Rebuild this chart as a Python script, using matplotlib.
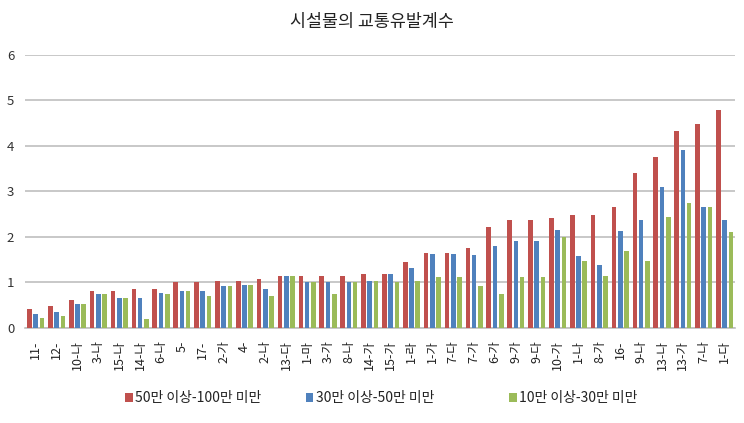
import matplotlib
matplotlib.use("Agg")
import matplotlib.pyplot as plt
import numpy as np

plt.rcParams['font.family'] = ['Noto Sans CJK KR', 'DejaVu Sans']

title = "시설물의 교통유발계수"
categories = ["11-", "12-", "10-나", "3-나", "15-나", "14-나", "6-나", "5-", "17-", "2-가",
              "4-", "2-나", "13-다", "1-마", "3-가", "8-나", "14-가", "15-가", "1-라", "1-가",
              "7-다", "7-가", "6-가", "9-가", "9-다", "10-가", "1-나", "8-가", "16-", "9-나",
              "13-나", "13-가", "7-나", "1-다"]
series_names = ["50만 이상-100만 미만", "30만 이상-50만 미만", "10만 이상-30만 미만"]
s_large = [0.42, 0.48, 0.61, 0.81, 0.81, 0.85, 0.86, 1.00, 1.00, 1.03,
           1.03, 1.07, 1.14, 1.15, 1.15, 1.15, 1.18, 1.19, 1.45, 1.65,
           1.65, 1.76, 2.22, 2.37, 2.37, 2.41, 2.48, 2.48, 2.65, 3.41,
           3.75, 4.33, 4.48, 4.79]
s_mid = [0.30, 0.35, 0.53, 0.74, 0.65, 0.65, 0.78, 0.81, 0.81, 0.92,
         0.95, 0.86, 1.14, 1.00, 1.00, 1.00, 1.03, 1.18, 1.31, 1.63,
         1.63, 1.61, 1.80, 1.92, 1.92, 2.15, 1.58, 1.38, 2.14, 2.38,
         3.09, 3.92, 2.65, 2.38]
s_small = [0.23, 0.27, 0.53, 0.74, 0.65, 0.20, 0.75, 0.81, 0.70, 0.92,
           0.95, 0.71, 1.14, 1.00, 0.75, 1.00, 1.03, 1.00, 1.04, 1.11,
           1.11, 0.92, 0.75, 1.11, 1.11, 2.01, 1.47, 1.15, 1.69, 1.47,
           2.45, 2.74, 2.65, 2.12]
colors = ["#C0504D", "#4F81BD", "#9BBB59"]

fig = plt.figure(figsize=(7.44, 4.23), dpi=100)
ax = fig.add_axes([0.034, 0.2246, 0.954, 0.6454])

x = np.arange(len(categories))
step = 0.30
w = 0.22
bars = []
for i, (vals, c, name) in enumerate(zip([s_large, s_mid, s_small], colors, series_names)):
    b = ax.bar(x + (i - 1) * step, vals, width=w, color=c, label=name, zorder=3, linewidth=0)
    bars.append(b)

ax.set_xlim(-0.5, len(categories) - 0.5)
ax.set_ylim(0, 6)
ax.set_yticks(range(0, 7))
ax.yaxis.grid(True, color="#BFBFBF", linewidth=1.2, zorder=0)
for s in ["top", "right", "left"]:
    ax.spines[s].set_visible(False)
ax.spines["bottom"].set_color("#BFBFBF")
ax.spines["bottom"].set_linewidth(1.2)
ax.tick_params(axis="y", length=0, labelsize=9.5, pad=8, colors="#333333")
ax.tick_params(axis="x", length=0, labelsize=9, pad=9, colors="#222222")
ax.set_xticks(x)
ax.set_xticklabels(categories, rotation=90, ha="center", va="top")

fig.text(0.5, 0.947, title, ha="center", va="center", fontsize=12.5, color="#222222")

leg_x = [0.168, 0.411, 0.684]
for b, name, lx in zip(bars, series_names, leg_x):
    lg = fig.legend([b], [name], loc="center left", bbox_to_anchor=(lx, 0.058),
                    frameon=False, fontsize=10, handlelength=0.55, handleheight=0.55,
                    handletextpad=0.15, borderpad=0, borderaxespad=0)
    for t in lg.get_texts():
        t.set_color("#222222")
fig.savefig("out.png", dpi=100)
